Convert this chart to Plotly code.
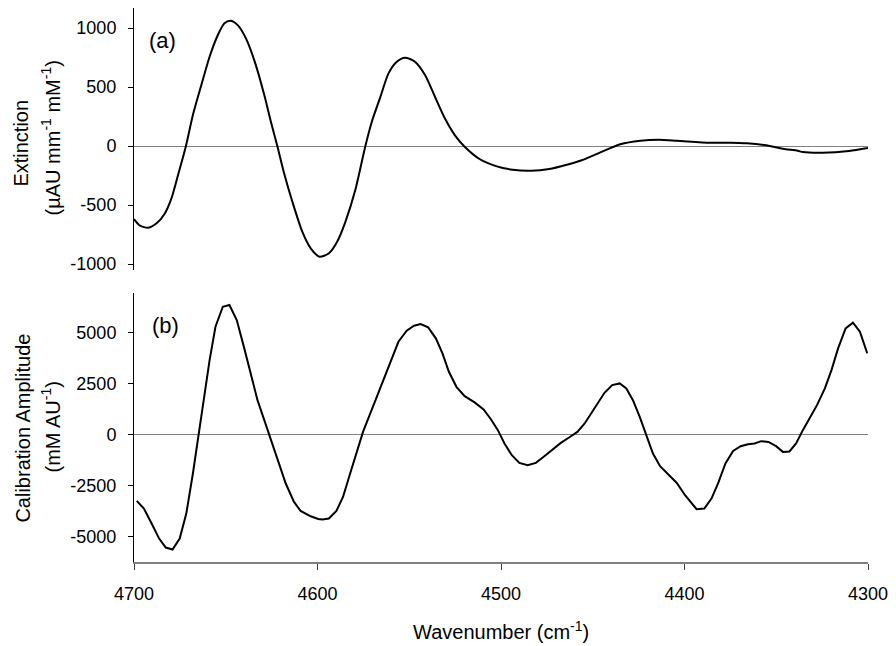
import plotly.graph_objects as go

# ---- Data ----
wn_a = [4700, 4696.7, 4692.3, 4687.7, 4683.2, 4679.6, 4676, 4671.8, 4667.9, 4663.3,
        4658.8, 4654.3, 4650.7, 4647.5, 4643.5, 4639, 4633.9, 4629, 4625.4, 4621.8,
        4618.2, 4613.7, 4608.3, 4603.7, 4598.9, 4593.8, 4589.3, 4584.8, 4579.4, 4574,
        4570.4, 4566, 4561.3, 4556.8, 4552.3, 4546.9, 4541.4, 4536, 4530.6, 4525.2,
        4519.8, 4511.7, 4502.7, 4493.6, 4483.7, 4473.7, 4464.7, 4456, 4447, 4435,
        4424, 4414, 4404, 4386, 4375, 4366, 4355.5, 4346.4, 4338.3, 4335.5,
        4324.8, 4310.3, 4300]
extinction = [-619, -675, -692, -655, -571, -444, -246, -6, 263, 517,
              757, 941, 1040, 1062, 1025, 913, 701, 432, 206, -6,
              -231, -472, -726, -867, -938, -909, -811, -642, -373, -6,
              206, 404, 616, 715, 749, 715, 602, 418, 235, 93,
              -6, -110, -170, -201, -209, -195, -161, -120, -62, 15,
              45, 53, 45, 28, 28, 23, 6, -23, -40, -51,
              -57, -42, -17]

wn_b = [4698.5, 4694.6, 4690.4, 4686.3, 4682.7, 4679, 4675.1, 4671.5, 4667.9, 4664.8,
        4662, 4658.8, 4655.6, 4651.6, 4648, 4644, 4639.9, 4636.2, 4632.7, 4629,
        4625.4, 4621.8, 4617.3, 4612.8, 4609.2, 4603.7, 4599.6, 4597.4, 4593.8, 4589.7,
        4586.1, 4582.5, 4578.8, 4575.2, 4571.6, 4568, 4564, 4560.1, 4555.9, 4551.4,
        4547.4, 4543.8, 4539.7, 4535.5, 4531.9, 4528.4, 4524.3, 4519.8, 4514.4, 4509.5,
        4505.4, 4501.7, 4498.1, 4494.1, 4490, 4485.5, 4481, 4476.4, 4471.9, 4467.4,
        4462.9, 4458.4, 4454.4, 4450.8, 4447.2, 4443.6, 4439.4, 4435.3, 4431.7, 4428.1,
        4424.4, 4420.8, 4417.2, 4413.3, 4408.7, 4404.2, 4399.7, 4397.5, 4393.4, 4389.2,
        4385.3, 4381.6, 4377.7, 4373.5, 4369.4, 4365.4, 4361.8, 4358.2, 4354.2, 4350.1,
        4346.4, 4342.8, 4339.2, 4335.5, 4331.9, 4327.8, 4323.5, 4319.9, 4316.3, 4312.2,
        4308.2, 4304.4, 4300.4]
calibration = [-3255, -3628, -4363, -5098, -5539, -5637, -5098, -3873, -1912, 49,
               1843, 3642, 5275, 6255, 6338, 5603, 4216, 2907, 1681, 701,
               -279, -1260, -2402, -3304, -3745, -4005, -4137, -4167, -4118, -3745,
               -3059, -1995, -931, 127, 946, 1765, 2662, 3642, 4539, 5079,
               5324, 5407, 5245, 4706, 3971, 3069, 2333, 1877, 1569, 1225,
               735, 211, -441, -1015, -1392, -1505, -1392, -1064, -735, -412,
               -147, 127, 539, 1029, 1520, 2039, 2417, 2500, 2255, 1681,
               863, -34, -931, -1554, -1961, -2373, -2976, -3221, -3662, -3628,
               -3137, -2373, -1422, -804, -574, -475, -441, -328, -363, -574,
               -853, -833, -441, 211, 784, 1436, 2255, 3152, 4216, 5196,
               5471, 5030, 3971]

x_ticks = [4700, 4600, 4500, 4400, 4300]
x_labels = ["4700", "4600", "4500", "4400", "4300"]
ya_ticks = [-1000, -500, 0, 500, 1000]
ya_labels = ["-1000", "-500", "0", "500", "1000"]
yb_ticks = [-5000, -2500, 0, 2500, 5000]
yb_labels = ["-5000", "-2500", "0", "2500", "5000"]

FONT = "Arial, Liberation Sans, sans-serif"
W, H = 896, 646
ML, MR, MT, MB = 134, 24, 8, 84

fig = go.Figure()
fig.add_trace(go.Scatter(x=wn_a, y=extinction, mode="lines",
                         line=dict(color="black", width=2, shape="spline", smoothing=0.7),
                         xaxis="x2", yaxis="y2", showlegend=False, hoverinfo="skip"))
fig.add_trace(go.Scatter(x=wn_b, y=calibration, mode="lines", line=dict(color="black", width=2),
                         xaxis="x", yaxis="y", showlegend=False, hoverinfo="skip"))

fig.update_layout(
    width=W, height=H,
    margin=dict(l=ML, r=MR, t=MT, b=MB),
    paper_bgcolor="white", plot_bgcolor="white",
    font=dict(family=FONT, size=18, color="black"),
    xaxis=dict(domain=[0, 1], range=[4700, 4300], anchor="y", tickvals=x_ticks, ticktext=x_labels,
               showgrid=False, zeroline=False, showline=True, linecolor="#808080", linewidth=2,
               ticks="outside", ticklen=6, tickcolor="#404040", tickwidth=1,
               ticklabelstandoff=8, tickfont=dict(size=18)),
    xaxis2=dict(domain=[0, 1], range=[4700, 4300], anchor="y2", matches="x",
                showgrid=False, zeroline=False, showline=False, showticklabels=False, ticks=""),
    yaxis=dict(domain=[0, 0.485], range=[-6245, 6912], anchor="x", tickvals=yb_ticks, ticktext=yb_labels,
               showgrid=False, zeroline=True, zerolinecolor="#808080", zerolinewidth=1,
               showline=True, linecolor="black", linewidth=1,
               ticks="outside", ticklen=5, tickcolor="black", ticklabelstandoff=8,
               tickfont=dict(size=18)),
    yaxis2=dict(domain=[0.527, 1], range=[-1051, 1170], anchor="x2", tickvals=ya_ticks, ticktext=ya_labels,
                showgrid=False, zeroline=True, zerolinecolor="#808080", zerolinewidth=1,
                showline=True, linecolor="black", linewidth=1,
                ticks="outside", ticklen=5, tickcolor="black", ticklabelstandoff=8,
                tickfont=dict(size=18)),
)


def px_to_paper(px, py):
    plot_w = W - ML - MR
    plot_h = H - MT - MB
    return (px - ML) / plot_w, (H - MB - py) / plot_h


for text, px, py in [("(a)", 147, 40), ("(b)", 150, 325)]:
    xx, yy = px_to_paper(px, py)
    fig.add_annotation(text=text, x=xx, y=yy, xref="paper", yref="paper", xanchor="left",
                       yanchor="middle", showarrow=False, font=dict(size=22))

titles = [
    ("Extinction", 20, 143),
    ("(µAU mm<sup>-1</sup> mM<sup>-1</sup>)", 50, 138),
    ("Calibration Amplitude", 22, 428),
    ("(mM AU<sup>-1</sup>)", 50, 427),
]
for text, px, py in titles:
    xx, yy = px_to_paper(px, py)
    fig.add_annotation(text=text, x=xx, y=yy, xref="paper", yref="paper", xanchor="center",
                       yanchor="middle", textangle=-90, showarrow=False, font=dict(size=20))

xx, yy = px_to_paper(503, 630)
fig.add_annotation(text="Wavenumber (cm<sup>-1</sup>)", x=xx, y=yy, xref="paper", yref="paper",
                   xanchor="center", yanchor="middle", showarrow=False, font=dict(size=20))

fig.write_html("out.html", config={"displayModeBar": False},
               post_script="document.body.style.margin='0px';document.body.style.padding='0px';")
